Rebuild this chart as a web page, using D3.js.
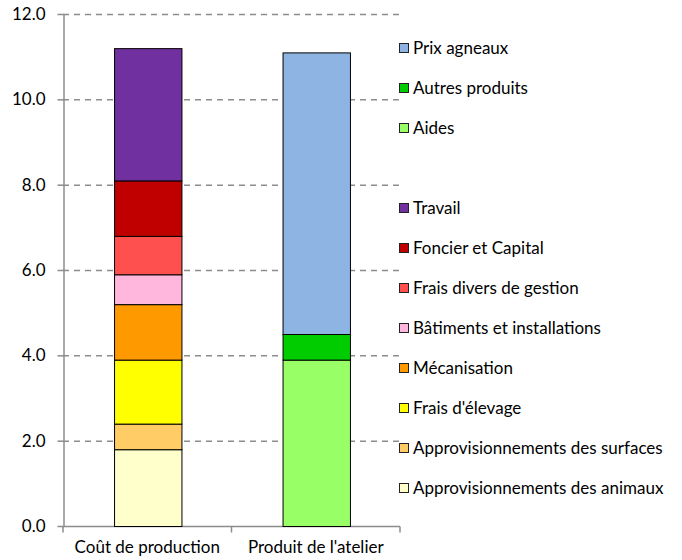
<!DOCTYPE html>
<html><head><meta charset="utf-8">
<script src="https://cdn.jsdelivr.net/npm/d3@7"></script>
<style>body{margin:0;background:#fff}svg{display:block}text{font-family:Lato,"Open Sans",sans-serif;fill:#000}</style>
</head><body><svg id="c" width="682" height="560"></svg>
<script>
const categories = ["Coût de production", "Produit de l'atelier"];
const costSeries = ["Approvisionnements des animaux","Approvisionnements des surfaces","Frais d'élevage","Mécanisation","Bâtiments et installations","Frais divers de gestion","Foncier et Capital","Travail"];
const costValues = [1.8, 0.6, 1.5, 1.3, 0.7, 0.9, 1.3, 3.1];
const costColors = ["#FFFFCC","#FFCC66","#FFFF00","#FF9900","#FFB7DD","#FF5050","#C00000","#7030A0"];
const productSeries = ["Aides","Autres produits","Prix agneaux"];
const productValues = [3.9, 0.6, 6.6];
const productColors = ["#99FF66","#00CC00","#8DB4E2"];
const yTicks = [0, 2, 4, 6, 8, 10, 12];
// legend order top->bottom (null = blank slot)
const legendOrder = ["Prix agneaux","Autres produits","Aides",null,"Travail","Foncier et Capital","Frais divers de gestion","Bâtiments et installations","Mécanisation","Frais d'élevage","Approvisionnements des surfaces","Approvisionnements des animaux"];

(function(){
const svg = d3.select("#c");
const pl = 63, pr = 400, pt = 14, pb = 526;
const fs = 17;
const y = d3.scaleLinear().domain([0, 12]).range([pb, pt]);
const x = d3.scaleBand().domain(categories).range([pl, pr]).paddingInner(0.6).paddingOuter(0.3);

// gridlines
svg.append("g").selectAll("line").data(yTicks.filter(d => d > 0)).join("line")
  .attr("x1", pl).attr("x2", pr).attr("y1", d => y(d) + 0.5).attr("y2", d => y(d) + 0.5)
  .attr("stroke", "#8c8c8c").attr("stroke-width", 1.5).attr("stroke-dasharray", "6,5");

// y axis
const ya = svg.append("g").attr("transform", `translate(${pl + 0.5},0)`)
  .call(d3.axisLeft(y).tickValues(yTicks).tickFormat(d3.format(".1f")).tickSize(6).tickSizeOuter(0));
ya.select(".domain").attr("stroke", "#8c8c8c").attr("stroke-width", 1.5);
ya.selectAll(".tick line").attr("stroke", "#8c8c8c").attr("stroke-width", 1.5);
ya.selectAll(".tick text").attr("font-size", fs).attr("x", -18).style("font-family", "Lato,sans-serif");

// x axis
const xa = svg.append("g").attr("transform", `translate(0,${pb + 0.5})`)
  .call(d3.axisBottom(x).tickSize(0).tickSizeOuter(0));
xa.select(".domain").attr("stroke", "#8c8c8c").attr("stroke-width", 1.5).attr("d", `M${pl},0H${pr}`);
xa.selectAll(".tick text").attr("font-size", fs).attr("y", 14).attr("dy", "0.71em").style("font-family", "Lato,sans-serif");
const xDiv = [pl, (pl + pr) / 2, pr];
xa.append("g").selectAll("line").data(xDiv).join("line")
  .attr("x1", d => d).attr("x2", d => d).attr("y1", 0).attr("y2", 6)
  .attr("stroke", "#8c8c8c").attr("stroke-width", 1.5);

function stack(cat, values, colors) {
  let acc = 0;
  const segs = values.map((v, i) => { const s = { y0: acc, y1: acc + v, c: colors[i] }; acc += v; return s; });
  svg.append("g").selectAll("rect").data(segs).join("rect")
    .attr("x", x(cat) + 1).attr("width", x.bandwidth())
    .attr("y", d => y(d.y1) + 0.5).attr("height", d => y(d.y0) - y(d.y1))
    .attr("fill", d => d.c).attr("stroke", "#000").attr("stroke-width", 1);
}
stack(categories[0], costValues, costColors);
stack(categories[1], productValues, productColors);

// legend
const colorOf = {};
costSeries.forEach((s, i) => colorOf[s] = costColors[i]);
productSeries.forEach((s, i) => colorOf[s] = productColors[i]);
const lg = svg.append("g");
legendOrder.forEach((name, i) => {
  if (!name) return;
  const cy = 48 + i * 40;
  lg.append("rect").attr("x", 399.5).attr("y", cy - 4.5).attr("width", 9).attr("height", 9)
    .attr("fill", colorOf[name]).attr("stroke", "#222").attr("stroke-width", 1);
  lg.append("text").attr("x", 413).attr("y", cy).attr("dy", "0.35em").attr("font-size", fs).text(name);
});
})();
</script></body></html>
